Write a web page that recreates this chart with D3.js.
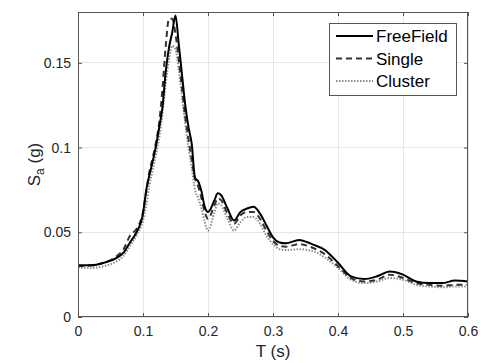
<!DOCTYPE html>
<html><head><meta charset="utf-8">
<script src="https://cdn.jsdelivr.net/npm/d3@7"></script>
<style>body{margin:0;background:#fff;} svg{display:block;font-family:"Liberation Sans",Arial,sans-serif;}</style>
</head><body>
<svg id="c" width="481" height="363"></svg>
<script>
const T = [0,0.02,0.04,0.06,0.07,0.08,0.09,0.1,0.105,0.11,0.115,0.12,0.125,0.13,0.135,0.14,0.145,0.15,0.155,0.16,0.165,0.17,0.175,0.18,0.185,0.19,0.195,0.2,0.21,0.215,0.22,0.23,0.24,0.25,0.26,0.27,0.28,0.29,0.3,0.31,0.32,0.34,0.36,0.38,0.4,0.42,0.44,0.46,0.48,0.5,0.52,0.54,0.56,0.58,0.6];
const freeField = [0.0305,0.0305,0.032,0.035,0.038,0.044,0.050,0.061,0.075,0.084,0.092,0.101,0.112,0.124,0.145,0.159,0.168,0.178,0.161,0.143,0.125,0.112,0.102,0.082,0.080,0.074,0.065,0.062,0.069,0.073,0.072,0.064,0.057,0.062,0.064,0.065,0.061,0.054,0.047,0.044,0.0435,0.0455,0.043,0.0395,0.032,0.024,0.0224,0.024,0.0268,0.025,0.021,0.020,0.020,0.0215,0.021];
const single = [0.030,0.0305,0.032,0.036,0.040,0.048,0.052,0.062,0.074,0.086,0.094,0.103,0.115,0.135,0.160,0.176,0.176,0.167,0.152,0.135,0.118,0.105,0.093,0.082,0.077,0.070,0.062,0.058,0.066,0.070,0.069,0.061,0.055,0.060,0.062,0.062,0.058,0.051,0.045,0.042,0.0415,0.043,0.041,0.037,0.030,0.023,0.021,0.022,0.025,0.023,0.020,0.019,0.0185,0.019,0.019];
const cluster = [0.029,0.029,0.030,0.033,0.036,0.042,0.048,0.057,0.066,0.078,0.087,0.096,0.106,0.120,0.138,0.152,0.160,0.158,0.146,0.130,0.114,0.100,0.088,0.075,0.070,0.064,0.056,0.051,0.062,0.067,0.066,0.058,0.051,0.056,0.059,0.059,0.055,0.048,0.043,0.040,0.0395,0.040,0.039,0.035,0.029,0.022,0.020,0.021,0.023,0.022,0.019,0.018,0.0175,0.018,0.018];
const xTicks = [0,0.1,0.2,0.3,0.4,0.5,0.6];
const yTicks = [0,0.05,0.1,0.15];
const seriesNames = ["FreeField","Single","Cluster"];

const svg = d3.select("#c");
const L=78,R=468,Tp=12,B=317;
const x = d3.scaleLinear().domain([0,0.6]).range([L,R]);
const y = d3.scaleLinear().domain([0,0.18]).range([B,Tp]);
const fmt = d => d===0?"0":String(d);

// grid
const g = svg.append("g");
g.selectAll(".gx").data(xTicks).join("line").attr("x1",d=>x(d)).attr("x2",d=>x(d)).attr("y1",Tp).attr("y2",B).attr("stroke","#e6e6e6").attr("stroke-width",1).attr("shape-rendering","crispEdges");
g.selectAll(".gy").data(yTicks).join("line").attr("x1",L).attr("x2",R).attr("y1",d=>y(d)).attr("y2",d=>y(d)).attr("stroke","#e6e6e6").attr("stroke-width",1).attr("shape-rendering","crispEdges");

// lines
const line = vals => d3.line().x((d,i)=>x(T[i])).y(d=>y(d)).curve(d3.curveMonotoneX)(vals);
const styles = [
  {v:cluster, stroke:"#8c8c8c", w:2, dash:"1.5,1.5"},
  {v:single, stroke:"#333", w:2, dash:"6,4"},
  {v:freeField, stroke:"#000", w:2, dash:null}
];
styles.forEach(s=>{
  svg.append("path").attr("d",line(s.v)).attr("fill","none").attr("stroke",s.stroke).attr("stroke-width",s.w).attr("stroke-dasharray",s.dash);
});

// axes
const axCol="#555";
const ax = svg.append("g").attr("fill","none").attr("stroke",axCol);
ax.append("rect").attr("x",L+0.5).attr("y",Tp+0.5).attr("width",R-L-1).attr("height",B-Tp-1).attr("stroke-width",1);
const xb = svg.append("g").attr("transform",`translate(0,${B})`).call(d3.axisBottom(x).tickValues(xTicks).tickFormat(fmt).tickSizeInner(-4).tickSizeOuter(0).tickPadding(9));
const xt = svg.append("g").attr("transform",`translate(0,${Tp})`).call(d3.axisTop(x).tickValues(xTicks).tickFormat("").tickSizeInner(-4).tickSizeOuter(0));
const yl = svg.append("g").attr("transform",`translate(${L},0)`).call(d3.axisLeft(y).tickValues(yTicks).tickFormat(fmt).tickSizeInner(-4).tickSizeOuter(0).tickPadding(7));
const yr = svg.append("g").attr("transform",`translate(${R},0)`).call(d3.axisRight(y).tickValues(yTicks).tickFormat("").tickSizeInner(-4).tickSizeOuter(0));
[xb,xt,yl,yr].forEach(a=>{a.select(".domain").remove();a.selectAll("line").attr("stroke",axCol);a.selectAll("text").attr("fill","#262626").style("font-size","14px").style("font-family","'Liberation Sans',Arial,sans-serif");});

// labels
svg.append("text").attr("x",(L+R)/2).attr("y",357).attr("text-anchor","middle").attr("fill","#262626").style("font-size","17px").text("T (s)");
const yt = svg.append("text").attr("transform",`translate(40,${(Tp+B)/2}) rotate(-90)`).attr("text-anchor","middle").attr("fill","#262626").style("font-size","17px");
yt.append("tspan").text("S");
yt.append("tspan").attr("dy",4).style("font-size","12px").text("a");
yt.append("tspan").attr("dy",-4).text(" (g)");

// legend
const lg = svg.append("g");
lg.append("rect").attr("x",329.5).attr("y",23.5).attr("width",127).attr("height",72).attr("fill","#fff").attr("stroke","#555");
const legStyles=[{stroke:"#000",dash:null},{stroke:"#333",dash:"6,4"},{stroke:"#8c8c8c",dash:"1.5,1.5"}];
seriesNames.forEach((n,i)=>{
  const yy = 36 + i*22.5;
  lg.append("line").attr("x1",336).attr("x2",373).attr("y1",yy).attr("y2",yy).attr("stroke",legStyles[i].stroke).attr("stroke-width",2).attr("stroke-dasharray",legStyles[i].dash);
  lg.append("text").attr("x",376).attr("y",yy+6).attr("fill","#000").style("font-size","17px").text(n);
});
</script>
</body></html>
